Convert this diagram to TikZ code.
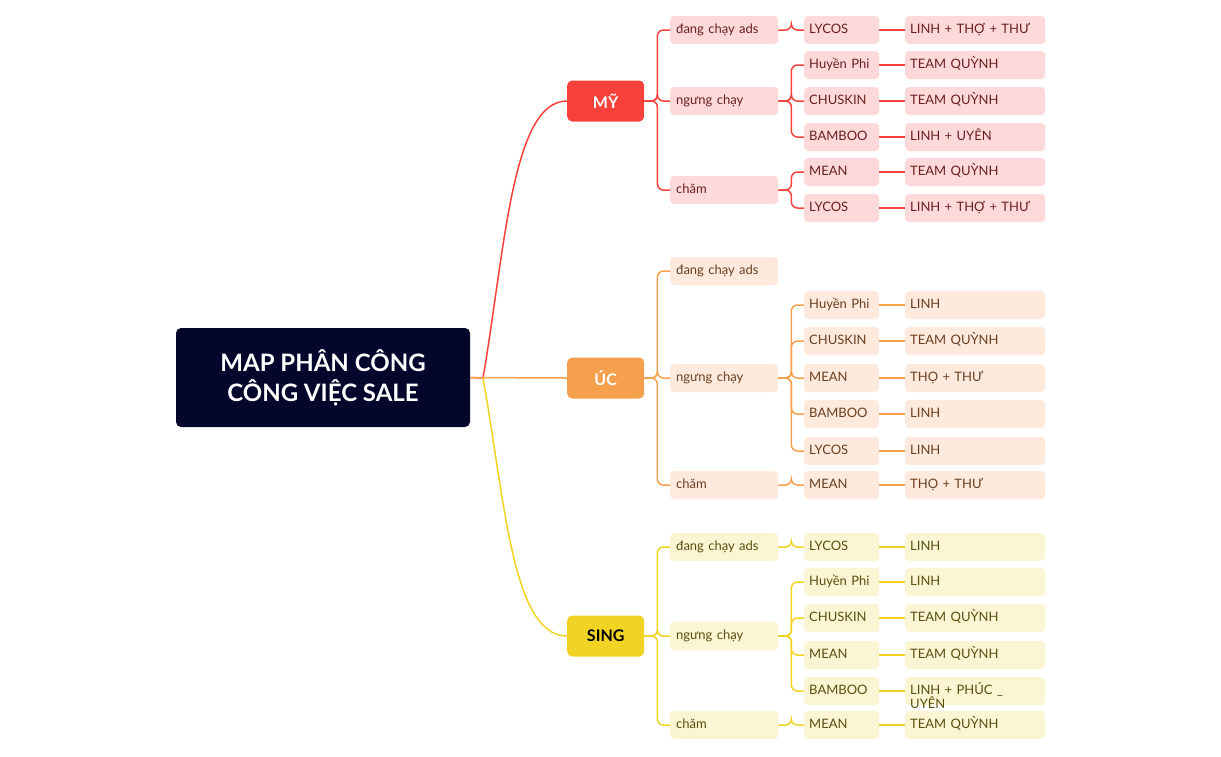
\documentclass[tikz,border=0pt]{standalone}
\usepackage{fontspec}
\setmainfont{Lato}
\begin{document}
\begin{tikzpicture}[x=1pt,y=-1pt,
 base/.style={rounded corners=4pt,inner sep=0pt,anchor=west,text height=9pt,text depth=3pt,font=\fontsize{13}{13}\selectfont},
 l2/.style={base,minimum width=108pt,minimum height=28pt,text width=96pt,align=left,fill=#1!25!white},
 l3/.style={base,minimum width=75pt,minimum height=28pt,text width=65pt,align=left,fill=#1!25!white},
 l4/.style={base,minimum width=140pt,minimum height=28pt,text width=130pt,align=left,fill=#1!25!white},
 l1/.style={rounded corners=5pt,minimum width=77pt,minimum height=41pt,fill=#1,font=\fontsize{16}{16}\selectfont\bfseries,anchor=west},
 ln/.style={draw=#1,line width=1.5pt,rounded corners=6pt}]
\definecolor{cr}{HTML}{F7423B}\definecolor{co}{HTML}{F5A04C}\definecolor{cy}{HTML}{F1D423}
\definecolor{tr}{HTML}{6B1F1F}\definecolor{to}{HTML}{6B3F1F}\definecolor{ty}{HTML}{5A4E10}
\definecolor{fr}{HTML}{FDDAD9}\definecolor{fo}{HTML}{FDEADC}\definecolor{fy}{HTML}{FCF5D3}
\tikzset{l2/.style={base,minimum width=108pt,minimum height=28pt,text width=96pt,align=left,fill=#1},
 l3/.style={base,minimum width=75pt,minimum height=28pt,text width=65pt,align=left,fill=#1},
 l4/.style={base,minimum width=140pt,minimum height=28pt,text width=130pt,align=left,fill=#1}}
\useasboundingbox (0,0) rectangle (1221,756);
\node[fill={rgb,255:red,5;green,6;blue,43},rounded corners=5pt,minimum width=294pt,minimum height=99pt,text=white,align=center,font=\fontsize{24}{30}\selectfont\bfseries] (root) at (323,377.5) {MAP PHÂN CÔNG\\CÔNG VIỆC SALE};
\coordinate (rj) at (483,378);
\node[l1=cr,text=white] (my) at (567,101) {MỸ};
\node[l1=co,text=white] (uc) at (567,378) {ÚC};
\node[l1=cy,text=black] (sg) at (567,636) {SING};
\draw[cr,line width=1.5pt] (root.east) -- (rj) .. controls (505,250) and (512,101) .. (my.west);
\draw[co,line width=1.5pt] (root.east) -- (uc.west);
\draw[cy,line width=1.5pt] (rj) .. controls (505,500) and (512,636) .. (sg.west);
% MY
\begin{scope}[every node/.append style={text=tr}]
\node[l2=fr] (m1) at (670,30) {đang chạy ads};
\node[l2=fr] (m2) at (670,101) {ngưng chạy};
\node[l2=fr] (m3) at (670,190) {chăm};
\node[l3=fr] (m1a) at (804,30) {LYCOS};
\node[l3=fr] (m2a) at (804,65) {Huyền Phi};
\node[l3=fr] (m2b) at (804,101) {CHUSKIN};
\node[l3=fr] (m2c) at (804,137) {BAMBOO};
\node[l3=fr] (m3a) at (804,172) {MEAN};
\node[l3=fr] (m3b) at (804,208) {LYCOS};
\node[l4=fr] (m1ax) at (905,30) {LINH + THỢ + THƯ};
\node[l4=fr] (m2ax) at (905,65) {TEAM QUỲNH};
\node[l4=fr] (m2bx) at (905,101) {TEAM QUỲNH};
\node[l4=fr] (m2cx) at (905,137) {LINH + UYÊN};
\node[l4=fr] (m3ax) at (905,172) {TEAM QUỲNH};
\node[l4=fr] (m3bx) at (905,208) {LINH + THỢ + THƯ};
\end{scope}
\foreach \p/\c in {my/m1,my/m2,my/m3,m1/m1a,m2/m2a,m2/m2b,m2/m2c,m3/m3a,m3/m3b}
  \draw[ln=cr] (\p.east) -- ++(13,0) |- (\c.west);
\foreach \a in {m1a,m2a,m2b,m2c,m3a,m3b} \draw[ln=cr] (\a.east) -- (\a x.west);
% UC
\begin{scope}[every node/.append style={text=to}]
\node[l2=fo] (u1) at (670,271) {đang chạy ads};
\node[l2=fo] (u2) at (670,378) {ngưng chạy};
\node[l2=fo] (u3) at (670,485) {chăm};
\node[l3=fo] (u2a) at (804,305) {Huyền Phi};
\node[l3=fo] (u2b) at (804,341) {CHUSKIN};
\node[l3=fo] (u2c) at (804,378) {MEAN};
\node[l3=fo] (u2d) at (804,414) {BAMBOO};
\node[l3=fo] (u2e) at (804,451) {LYCOS};
\node[l3=fo] (u3a) at (804,485) {MEAN};
\node[l4=fo] (u2ax) at (905,305) {LINH};
\node[l4=fo] (u2bx) at (905,341) {TEAM QUỲNH};
\node[l4=fo] (u2cx) at (905,378) {THỌ + THƯ};
\node[l4=fo] (u2dx) at (905,414) {LINH};
\node[l4=fo] (u2ex) at (905,451) {LINH};
\node[l4=fo] (u3ax) at (905,485) {THỌ + THƯ};
\end{scope}
\foreach \p/\c in {uc/u1,uc/u2,uc/u3,u2/u2a,u2/u2b,u2/u2c,u2/u2d,u2/u2e,u3/u3a}
  \draw[ln=co] (\p.east) -- ++(13,0) |- (\c.west);
\foreach \a in {u2a,u2b,u2c,u2d,u2e,u3a} \draw[ln=co] (\a.east) -- (\a x.west);
% SING
\begin{scope}[every node/.append style={text=ty}]
\node[l2=fy] (s1) at (670,547) {đang chạy ads};
\node[l2=fy] (s2) at (670,636) {ngưng chạy};
\node[l2=fy] (s3) at (670,725) {chăm};
\node[l3=fy] (s1a) at (804,547) {LYCOS};
\node[l3=fy] (s2a) at (804,582) {Huyền Phi};
\node[l3=fy] (s2b) at (804,618) {CHUSKIN};
\node[l3=fy] (s2c) at (804,655) {MEAN};
\node[l3=fy] (s2d) at (804,691) {BAMBOO};
\node[l3=fy] (s3a) at (804,725) {MEAN};
\node[l4=fy] (s1ax) at (905,547) {LINH};
\node[l4=fy] (s2ax) at (905,582) {LINH};
\node[l4=fy] (s2bx) at (905,618) {TEAM QUỲNH};
\node[l4=fy] (s2cx) at (905,655) {TEAM QUỲNH};
\node[l4=fy] (s2dx) at (905,691) {LINH + PHÚC \_ UYÊN};
\node[l4=fy] (s3ax) at (905,725) {TEAM QUỲNH};
\end{scope}
\foreach \p/\c in {sg/s1,sg/s2,sg/s3,s1/s1a,s2/s2a,s2/s2b,s2/s2c,s2/s2d,s3/s3a}
  \draw[ln=cy] (\p.east) -- ++(13,0) |- (\c.west);
\foreach \a in {s1a,s2a,s2b,s2c,s2d,s3a} \draw[ln=cy] (\a.east) -- (\a x.west);
\end{tikzpicture}
\end{document}
